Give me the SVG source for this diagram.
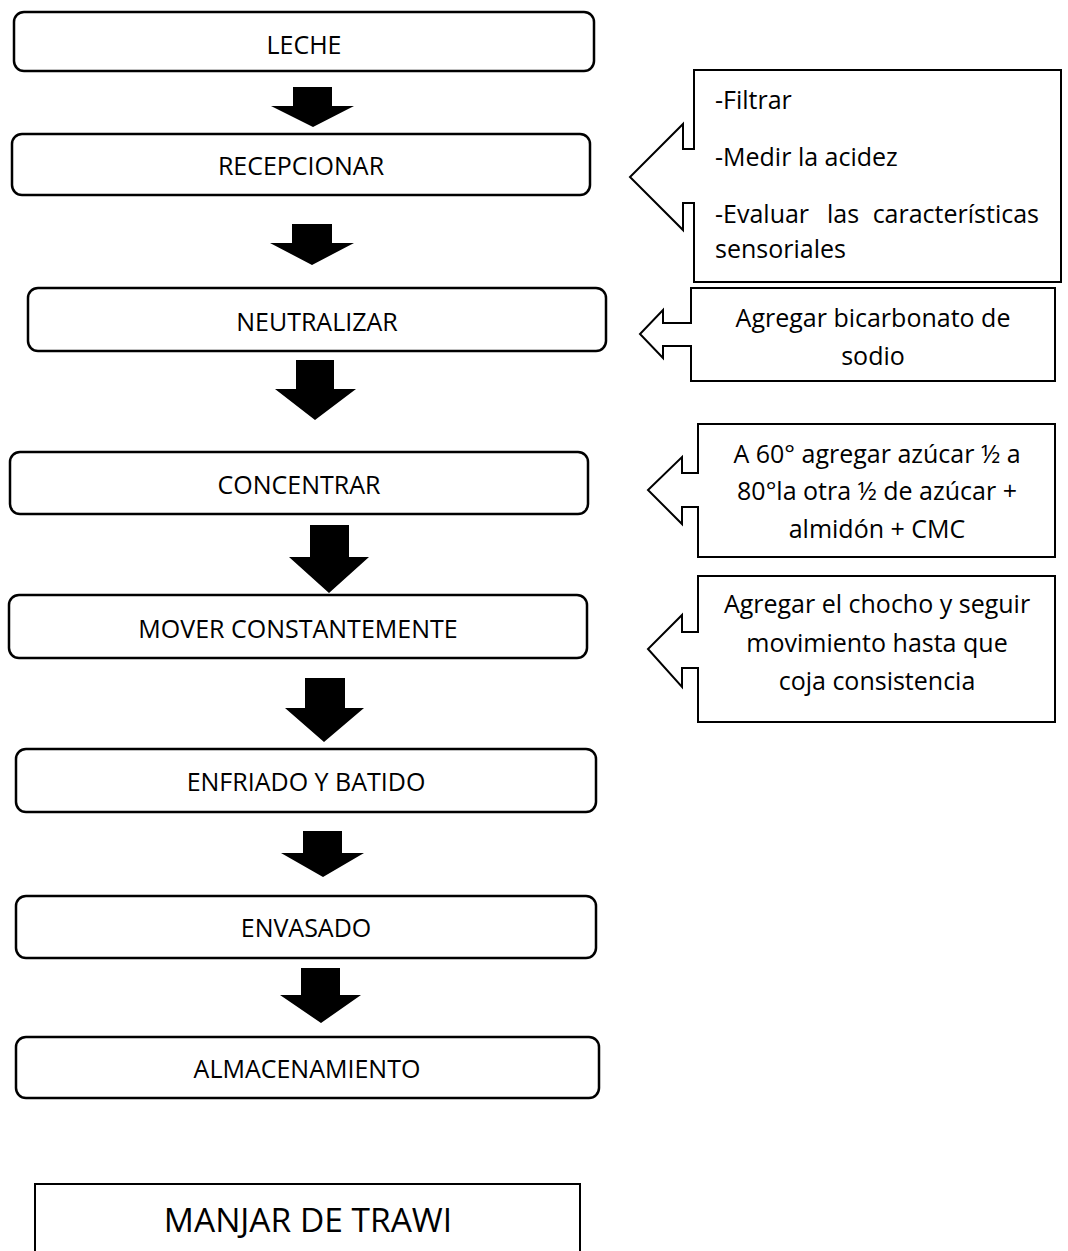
<svg xmlns="http://www.w3.org/2000/svg" width="1068" height="1251" viewBox="0 0 1068 1251">
<style>
.box{fill:#fff;stroke:#000;stroke-width:2.5}
.call{fill:#fff;stroke:#000;stroke-width:2}
.arr{fill:#000;stroke:none}
text{font-family:"Open Sans","Noto Sans","DejaVu Sans",sans-serif;font-size:25px;fill:#000}
.c{text-anchor:middle}
.title{font-size:33.5px}
</style>
<rect width="1068" height="1251" fill="#fff"/>
<g id="connectors">
<polygon class="arr" points="293,87 332,87 332,106 354,106 313,127 271,106 293,106"/>
<polygon class="arr" points="292,224 332,224 332,243 354,243 312,265 270,243 292,243"/>
<polygon class="arr" points="296,360 334,360 334,389 356,389 315,420 275,389 296,389"/>
<polygon class="arr" points="310,525 349,525 349,557 369,557 329,593 289,557 310,557"/>
<polygon class="arr" points="305,678 345,678 345,708 364,708 324,742 285,708 305,708"/>
<polygon class="arr" points="303,831 342,831 342,853 364,853 323,877 281,853 303,853"/>
<polygon class="arr" points="301,968 340,968 340,995 361,995 321,1023 280,995 301,995"/>
</g>
<g id="n-leche"><rect class="box" x="14" y="12" width="580" height="59" rx="10"/><text class="c" x="304" y="54">LECHE</text></g>
<g id="n-recepcionar"><rect class="box" x="12" y="134" width="578" height="61" rx="10"/><text class="c" x="301" y="175">RECEPCIONAR</text></g>
<g id="n-neutralizar"><rect class="box" x="28" y="288" width="578" height="63" rx="10"/><text class="c" x="317" y="331">NEUTRALIZAR</text></g>
<g id="n-concentrar"><rect class="box" x="10" y="452" width="578" height="62" rx="10"/><text class="c" x="299" y="494">CONCENTRAR</text></g>
<g id="n-mover"><rect class="box" x="9" y="595" width="578" height="63" rx="10"/><text class="c" x="298" y="638">MOVER CONSTANTEMENTE</text></g>
<g id="n-enfriado"><rect class="box" x="16" y="749" width="580" height="63" rx="10"/><text class="c" x="306" y="791">ENFRIADO Y BATIDO</text></g>
<g id="n-envasado"><rect class="box" x="16" y="896" width="580" height="62" rx="10"/><text class="c" x="306" y="937">ENVASADO</text></g>
<g id="n-almacenamiento"><rect class="box" x="16" y="1037" width="583" height="61" rx="10"/><text class="c" x="307" y="1078">ALMACENAMIENTO</text></g>
<g id="n-manjar"><rect class="call" x="35" y="1184" width="545" height="100"/><text class="c title" x="308" y="1232">MANJAR DE TRAWI</text></g>
<g id="c-filtrar">
<path class="call" d="M694,70 H1061 V282 H694 V203 H683 V230 L630,177 L683,124 V149 H694 Z"/>
<text x="715" y="109">-Filtrar</text>
<text x="715" y="166">-Medir la acidez</text>
<text y="223"><tspan x="715">-Evaluar</tspan><tspan x="827">las</tspan><tspan x="1039" text-anchor="end">características</tspan></text>
<text x="715" y="258">sensoriales</text>
</g>
<g id="c-bicarbonato">
<path class="call" d="M691,288 H1055 V381 H691 V346 H663 V358 L640,334 L663,310 V323 H691 Z"/>
<text class="c" x="873" y="327">Agregar bicarbonato de</text>
<text class="c" x="873" y="365">sodio</text>
</g>
<g id="c-azucar">
<path class="call" d="M698,424 H1055 V557 H698 V507 H682 V524 L648,490 L682,457 V473 H698 Z"/>
<text class="c" x="877" y="463">A 60° agregar azúcar ½ a</text>
<text class="c" x="877" y="500">80°la otra ½ de azúcar +</text>
<text class="c" x="877" y="538">almidón + CMC</text>
</g>
<g id="c-chocho">
<path class="call" d="M698,576 H1055 V722 H698 V668 H682 V687 L648,649 L682,615 V632 H698 Z"/>
<text class="c" x="877" y="613">Agregar el chocho y seguir</text>
<text class="c" x="877" y="652">movimiento hasta que</text>
<text class="c" x="877" y="690">coja consistencia</text>
</g>
</svg>
